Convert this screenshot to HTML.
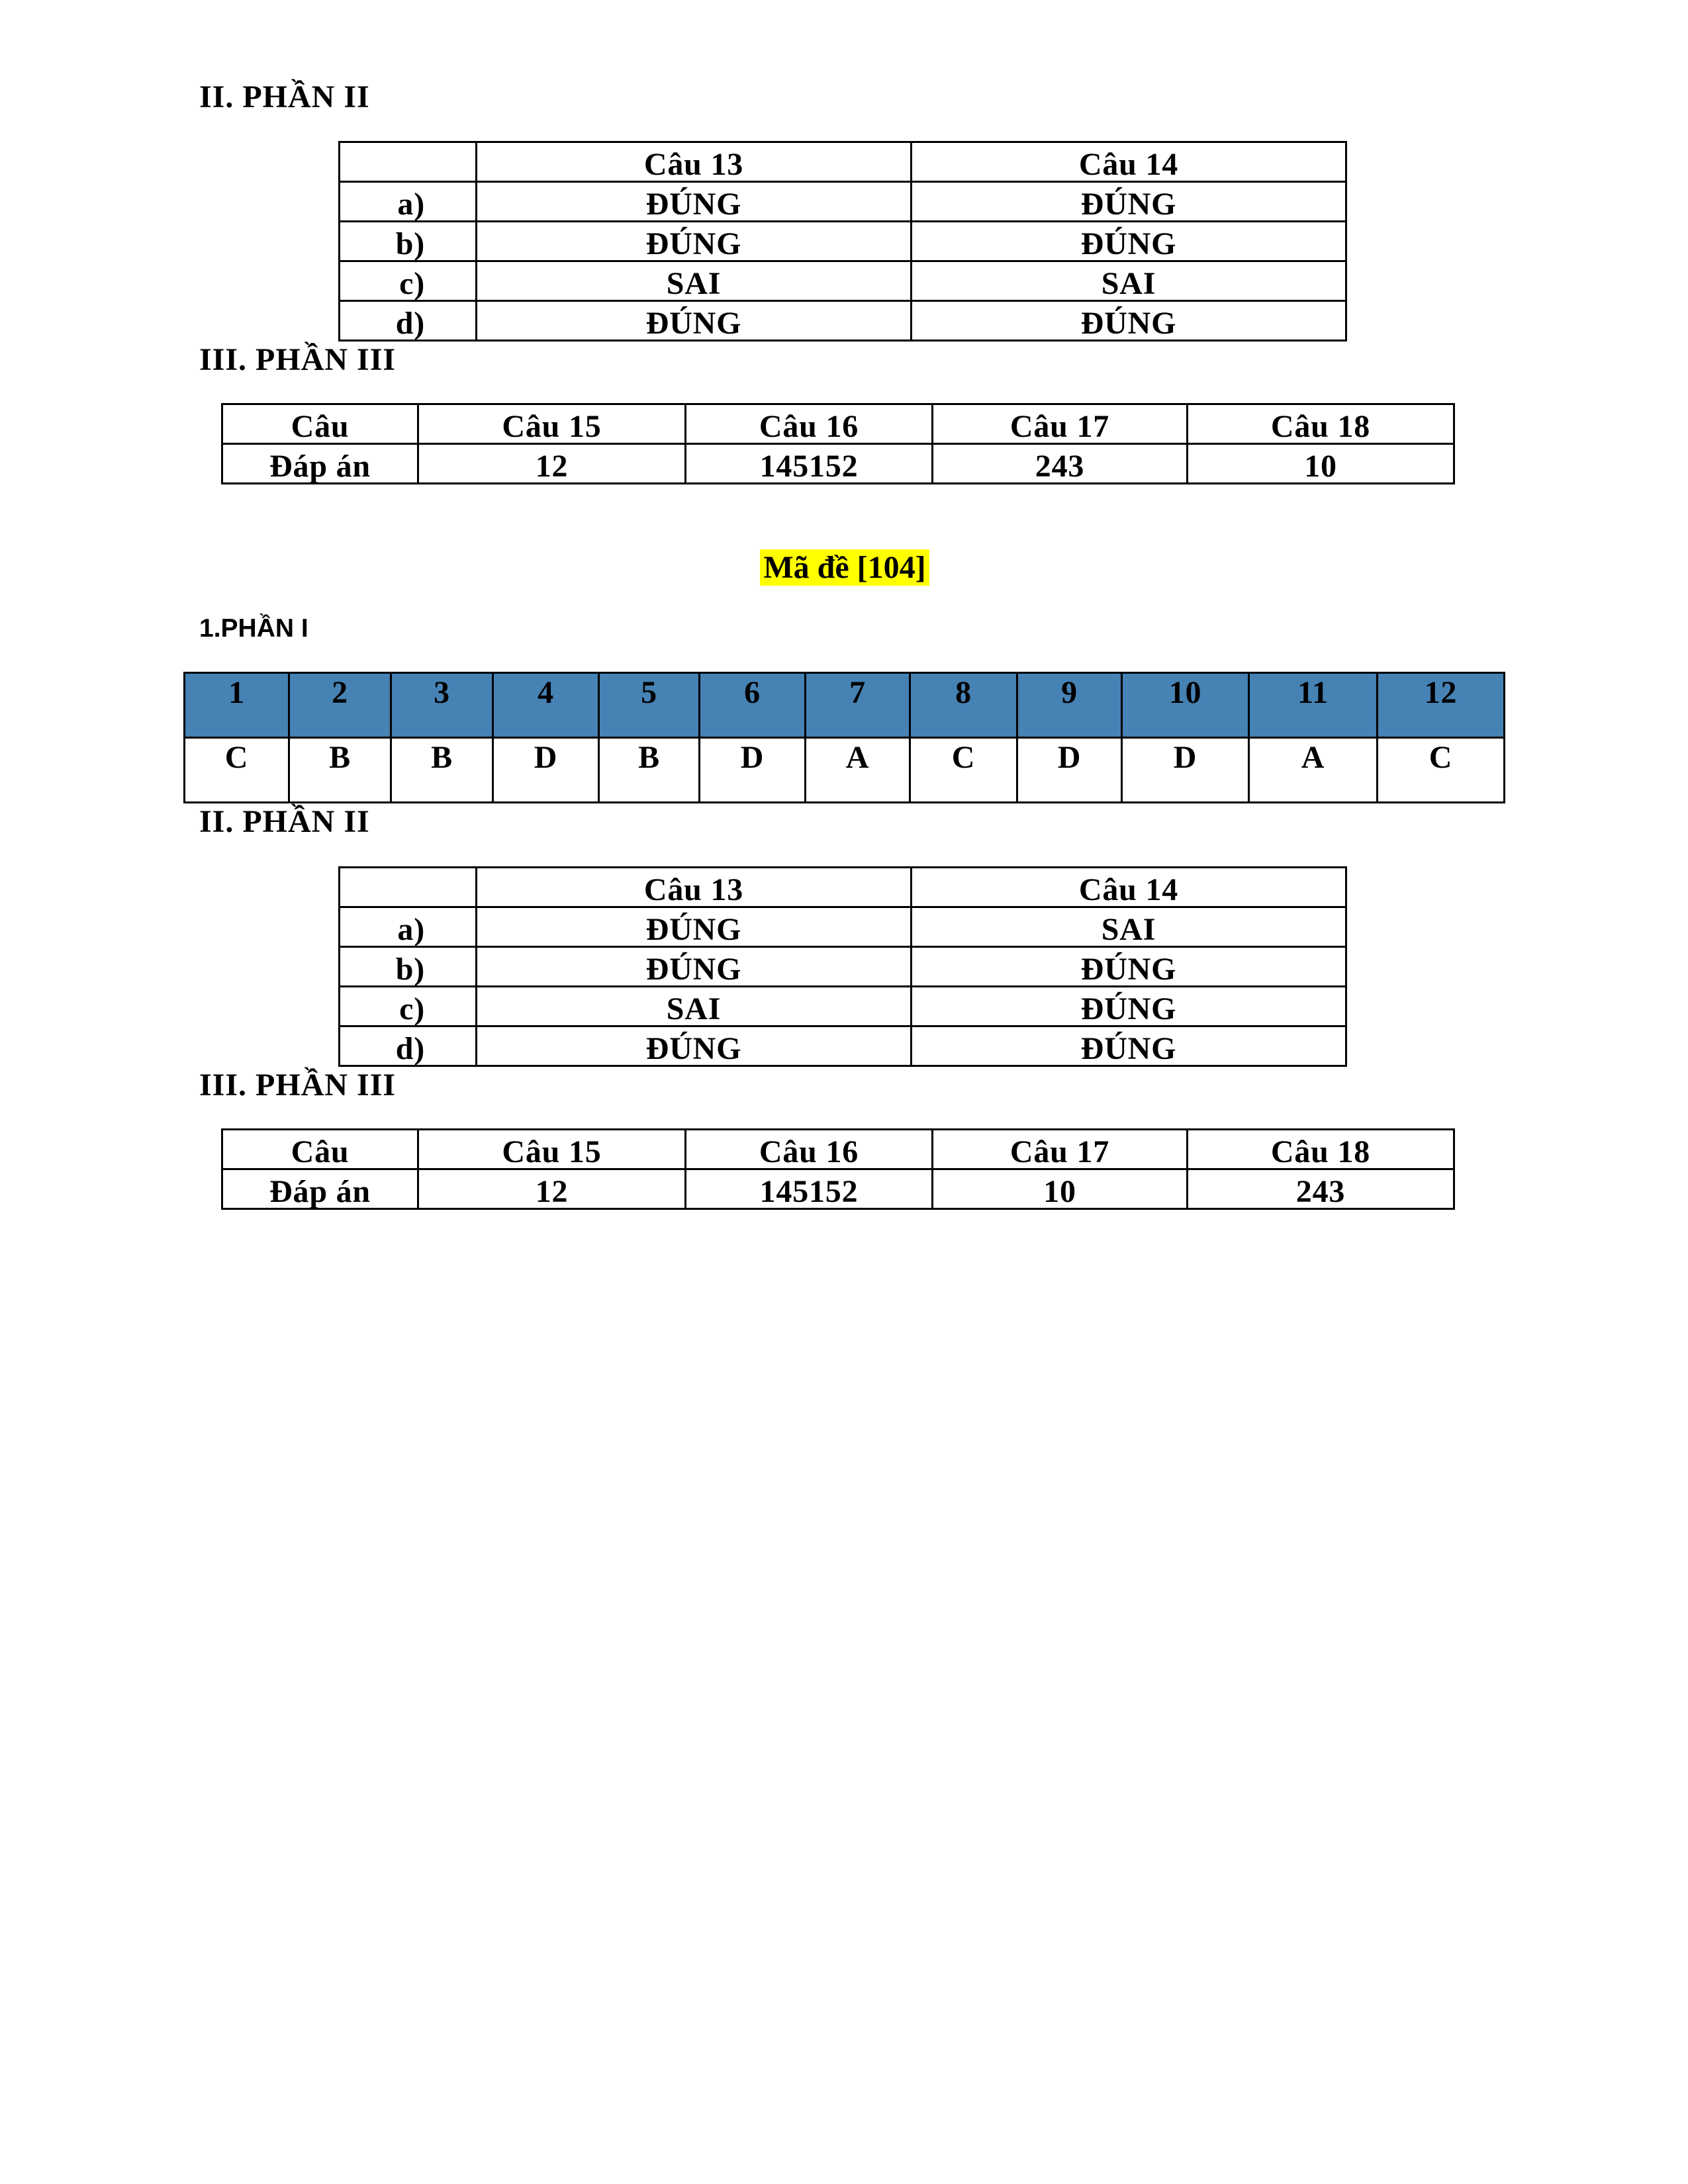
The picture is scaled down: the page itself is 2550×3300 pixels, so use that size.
<!DOCTYPE html>
<html><head><meta charset="utf-8">
<style>
body{margin:0;width:2550px;height:3300px;background:#fff;position:relative;font-family:"Liberation Serif",serif;font-weight:bold;color:#000}
.h{position:absolute;font-size:48px;letter-spacing:1px;line-height:50px;white-space:nowrap}
table{position:absolute;border-collapse:collapse;table-layout:fixed}
td{border:3px solid #000;padding:0;text-align:center;font-size:48px;letter-spacing:0.8px;line-height:46px;vertical-align:bottom;padding-bottom:1px;white-space:nowrap}
td.l{text-align:right;padding-right:76px}
.b td{vertical-align:top;padding-top:6px;padding-bottom:0}
.b tr.hd td{background:#4682b4}
</style></head><body>

<div class="h" style="left:301px;top:122px">II. PHẦN II</div>
<table style="left:511px;top:213px;width:1521px">
<colgroup><col style="width:207px"><col style="width:657px"><col style="width:657px"></colgroup>
<tr style="height:60px"><td></td><td>Câu 13</td><td>Câu 14</td></tr>
<tr style="height:60px"><td class="l">a)</td><td>ĐÚNG</td><td>ĐÚNG</td></tr>
<tr style="height:60px"><td class="l">b)</td><td>ĐÚNG</td><td>ĐÚNG</td></tr>
<tr style="height:60px"><td class="l">c)</td><td>SAI</td><td>SAI</td></tr>
<tr style="height:60px"><td class="l">d)</td><td>ĐÚNG</td><td>ĐÚNG</td></tr>
</table>
<div class="h" style="left:301px;top:519px">III. PHẦN III</div>
<table style="left:334px;top:609px;width:1861px">
<colgroup><col style="width:296px"><col style="width:404px"><col style="width:373px"><col style="width:385px"><col style="width:403px"></colgroup>
<tr style="height:60px"><td>Câu</td><td>Câu 15</td><td>Câu 16</td><td>Câu 17</td><td>Câu 18</td></tr>
<tr style="height:60px"><td>Đáp án</td><td>12</td><td>145152</td><td>243</td><td>10</td></tr>
</table>

<div class="h" style="left:1148px;top:830px;width:256px;height:55px;background:#ffff00;text-align:center;line-height:56px;letter-spacing:0">Mã đề [104]</div>

<div class="h" style="left:301px;top:928px;font-family:'Liberation Sans',sans-serif;font-size:39px;letter-spacing:0;line-height:44px">1.PHẦN I</div>

<table class="b" style="left:277px;top:1015px;width:1994px">
<colgroup><col style="width:158px"><col style="width:154px"><col style="width:154px"><col style="width:160px"><col style="width:152px"><col style="width:160px"><col style="width:158px"><col style="width:162px"><col style="width:158px"><col style="width:192px"><col style="width:194px"><col style="width:192px"></colgroup>
<tr class="hd" style="height:98px"><td>1</td><td>2</td><td>3</td><td>4</td><td>5</td><td>6</td><td>7</td><td>8</td><td>9</td><td>10</td><td>11</td><td>12</td></tr>
<tr style="height:98px"><td>C</td><td>B</td><td>B</td><td>D</td><td>B</td><td>D</td><td>A</td><td>C</td><td>D</td><td>D</td><td>A</td><td>C</td></tr>
</table>

<div class="h" style="left:301px;top:1217px">II. PHẦN II</div>
<table style="left:511px;top:1309px;width:1521px">
<colgroup><col style="width:207px"><col style="width:657px"><col style="width:657px"></colgroup>
<tr style="height:60px"><td></td><td>Câu 13</td><td>Câu 14</td></tr>
<tr style="height:60px"><td class="l">a)</td><td>ĐÚNG</td><td>SAI</td></tr>
<tr style="height:60px"><td class="l">b)</td><td>ĐÚNG</td><td>ĐÚNG</td></tr>
<tr style="height:60px"><td class="l">c)</td><td>SAI</td><td>ĐÚNG</td></tr>
<tr style="height:60px"><td class="l">d)</td><td>ĐÚNG</td><td>ĐÚNG</td></tr>
</table>
<div class="h" style="left:301px;top:1615px">III. PHẦN III</div>
<table style="left:334px;top:1705px;width:1861px">
<colgroup><col style="width:296px"><col style="width:404px"><col style="width:373px"><col style="width:385px"><col style="width:403px"></colgroup>
<tr style="height:60px"><td>Câu</td><td>Câu 15</td><td>Câu 16</td><td>Câu 17</td><td>Câu 18</td></tr>
<tr style="height:60px"><td>Đáp án</td><td>12</td><td>145152</td><td>10</td><td>243</td></tr>
</table>

</body></html>
